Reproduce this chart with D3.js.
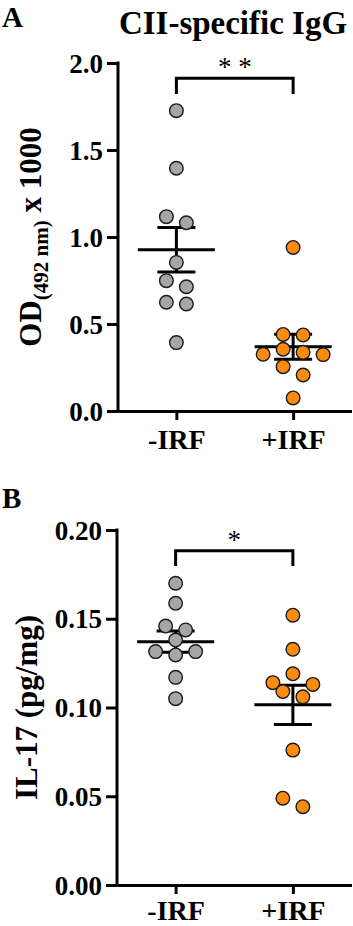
<!DOCTYPE html>
<html>
<head>
<meta charset="utf-8">
<script src="https://cdn.jsdelivr.net/npm/d3@7"></script>
<style>
  body { margin: 0; background: #fff; }
  svg { display: block; font-family: "Liberation Serif", "Times New Roman", serif; }
</style>
</head>
<body>
<svg id="chart" width="353" height="926"></svg>
<script>
const groups = ['-IRF', '+IRF']

// A: CII-specific IgG, OD(492 nm) x 1000
const iggMinus = [1.726, 1.395, 1.117, 1.082, 0.854, 0.749, 0.714, 0.625, 0.615, 0.393]
const iggPlus = [0.94, 0.44, 0.437, 0.355, 0.337, 0.326, 0.324, 0.255, 0.207, 0.075]
const iggTicks = [0, 0.5, 1.0, 1.5, 2.0]
const iggBracket = [1.912, 1.822]   // bar level, leg end
const iggStars = '* *'

// B: IL-17 (pg/mg)
const il17Minus = [0.170, 0.1587, 0.1459, 0.1437, 0.138, 0.1315, 0.1296, 0.1315, 0.117, 0.105]
const il17Plus = [0.152, 0.1328, 0.119, 0.113, 0.114, 0.109, 0.106, 0.076, 0.0441, 0.0489]
const il17Ticks = [0, 0.05, 0.10, 0.15, 0.20]
const il17Bracket = [0.1883, 0.1797]
const il17Stars = '*'

const colors = { '-IRF': '#a6a6a6', '+IRF': '#fd8b0d' }
const r = 6.8

const svg = d3.select('#chart')

// prism-like scatter: points close in y share a row and are spread symmetrically
function rowsLayout(vals, y, w) {
    const order = d3.range(vals.length).sort(function (a, b) { return vals[b] - vals[a] })
    const rows = []
    order.forEach(function (i) {
        const py = y(vals[i])
        const last = rows[rows.length - 1]
        if (last && py - last.y0 < 12) last.idx.push(i)
        else rows.push({ y0: py, idx: [i] })
    })
    const offs = []
    rows.forEach(function (row) {
        const n = row.idx.length
        let slots
        if (n % 2) {
            slots = [0]
            for (let k = 1; slots.length < n; k++) slots.push(-k * w, k * w)
        } else {
            slots = []
            for (let k = 0; slots.length < n; k++) slots.push(-(k + 0.5) * w, (k + 0.5) * w)
        }
        row.idx.forEach(function (i, j) { offs[i] = slots[j] })
    })
    return offs
}

function panel(opt) {
    const y = d3.scaleLinear().domain([opt.ticks[0], opt.ticks[opt.ticks.length - 1]]).range([opt.bottom, opt.top])
    const x = d3.scalePoint().domain(groups).range([opt.left, 351.5]).padding(0.5)
    const g = svg.append('g')

    // y axis
    const ya = g.append('g').attr('transform', 'translate(' + opt.left + ',0)')
        .call(d3.axisLeft(y).tickValues(opt.ticks).tickFormat(d3.format(opt.fmt)).tickSize(11).tickSizeOuter(0).tickPadding(4))
    // x axis
    const xa = g.append('g').attr('transform', 'translate(0,' + opt.bottom + ')')
        .call(d3.axisBottom(x).tickSize(9).tickSizeOuter(0).tickPadding(opt.catPad))
    g.selectAll('.domain, .tick line').attr('stroke', '#000').attr('stroke-width', 3)
    ya.selectAll('.domain').attr('d', 'M0,' + (opt.top - 1.5) + 'V' + (opt.bottom + 1.5))
    ya.selectAll('.tick text').attr('font-size', 27).attr('font-weight', 'bold').attr('fill', '#000')
        .attr('font-family', '"Liberation Serif", serif').attr('dy', '0.34em')
    xa.selectAll('.tick text').attr('font-size', 28).attr('font-weight', 'bold').attr('fill', '#000')
        .attr('font-family', '"Liberation Serif", serif')

    // mean +/- SEM
    groups.forEach(function (grp) {
        const vals = opt.data[grp]
        const m = d3.mean(vals)
        const sem = d3.deviation(vals) / Math.sqrt(vals.length)
        const cx = x(grp)
        const eg = g.append('g').attr('stroke', '#000').attr('stroke-width', 3).attr('fill', 'none')
        eg.append('line').attr('x1', cx - 38.5).attr('x2', cx + 38.5).attr('y1', y(m)).attr('y2', y(m))
        eg.append('line').attr('x1', cx).attr('x2', cx).attr('y1', y(m + sem)).attr('y2', y(m - sem))
        eg.append('line').attr('x1', cx - 19).attr('x2', cx + 19).attr('y1', y(m + sem)).attr('y2', y(m + sem))
        eg.append('line').attr('x1', cx - 19).attr('x2', cx + 19).attr('y1', y(m - sem)).attr('y2', y(m - sem))

        const offs = rowsLayout(vals, y, 20)
        g.append('g').selectAll('circle').data(vals).join('circle')
            .attr('cx', function (d, i) { return cx + offs[i] })
            .attr('cy', function (d) { return y(d) })
            .attr('r', r)
            .attr('fill', colors[grp])
            .attr('stroke', '#1a1a1a')
            .attr('stroke-width', 1.4)
    })

    // significance bracket
    const x0 = x(groups[0]), x1 = x(groups[1])
    g.append('path')
        .attr('d', 'M' + x0 + ',' + y(opt.bracket[1]) + 'V' + y(opt.bracket[0]) + 'H' + x1 + 'V' + y(opt.bracket[1]))
        .attr('fill', 'none').attr('stroke', '#000').attr('stroke-width', 3)
    g.append('text').attr('x', (x0 + x1) / 2).attr('y', y(opt.bracket[0]) - 2)
        .attr('text-anchor', 'middle').attr('font-size', 27).text(opt.stars)

    // y label
    const lab = g.append('text')
        .attr('transform', 'translate(' + opt.labelX + ',' + (opt.top + opt.bottom) / 2 + ') rotate(-90)')
        .attr('text-anchor', 'middle').attr('font-size', 31).attr('font-weight', 'bold')
    opt.label(lab)

    // panel letter
    g.append('text').attr('x', 2).attr('y', opt.letterY).attr('font-size', 29).attr('font-weight', 'bold').text(opt.letter)
}

panel({
    data: { '-IRF': iggMinus, '+IRF': iggPlus }, ticks: iggTicks, fmt: '.1f',
    top: 63, bottom: 411, left: 118, bracket: iggBracket, stars: iggStars,
    letter: 'A', letterY: 27, labelX: 41, catPad: 9,
    label: function (t) {
        t.append('tspan').text('OD')
        t.append('tspan').attr('font-size', 21).attr('dy', 7).text('(492 nm)')
        t.append('tspan').attr('dy', -7).text(' x 1000')
    }
})

panel({
    data: { '-IRF': il17Minus, '+IRF': il17Plus }, ticks: il17Ticks, fmt: '.2f',
    top: 530, bottom: 885, left: 117, bracket: il17Bracket, stars: il17Stars,
    letter: 'B', letterY: 508, labelX: 37, catPad: 6,
    label: function (t) { t.text('IL-17 (pg/mg)') }
})

svg.append('text').attr('x', 233).attr('y', 34).attr('text-anchor', 'middle')
    .attr('font-size', 33).attr('font-weight', 'bold').text('CII-specific IgG')
</script>
</body>
</html>
